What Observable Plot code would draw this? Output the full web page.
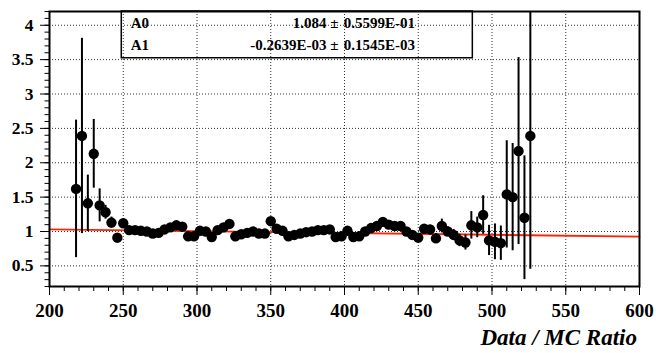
<!DOCTYPE html>
<html><head><meta charset="utf-8">
<script src="https://cdn.jsdelivr.net/npm/d3@7"></script>
<script src="https://cdn.jsdelivr.net/npm/@observablehq/plot@0.6"></script>
<style>
body{margin:0;background:#fff}
#wrap{width:656px}
#title{width:656px;height:31px;box-sizing:border-box;padding-right:19px;text-align:right;font-family:"Liberation Serif",serif;font-weight:bold;font-style:italic;font-size:23px;line-height:31px;color:#000;white-space:nowrap}
</style>
</head><body><div id="wrap"><div id="chart"></div><div id="title"></div></div>
<script>
// ---- data ----
const binCenters = [218,222,226,230,234,238,242,246,250,254,258,262,266,270,274,278,282,286,290,294,298,302,306,310,314,318,322,326,330,334,338,342,346,350,354,358,362,366,370,374,378,382,386,390,394,398,402,406,410,414,418,422,426,430,434,438,442,446,450,454,458,462,466,470,474,478,482,486,490,494,498,502,506,510,514,518,522,526];
const ratio = [1.62,2.39,1.41,2.13,1.38,1.28,1.13,0.91,1.12,1.02,1.02,1.01,1.00,0.97,0.98,1.03,1.06,1.09,1.07,0.93,0.93,1.01,1.00,0.92,1.02,1.06,1.11,0.93,0.96,0.98,1.00,0.97,0.97,1.15,1.04,1.01,0.93,0.95,0.97,0.99,1.00,1.02,1.02,1.03,0.92,0.93,1.01,0.92,0.93,1.00,1.05,1.08,1.14,1.10,1.08,1.08,1.00,0.95,0.91,1.04,1.03,0.90,1.08,1.00,0.95,0.87,0.84,1.09,1.06,1.24,0.87,0.85,0.83,1.54,1.50,2.17,1.20,2.39];
const ratioErr = [1.00,1.42,0.41,0.50,0.24,0.10,0.08,0.06,0.06,0.05,0.05,0.04,0.04,0.04,0.04,0.04,0.04,0.04,0.04,0.04,0.04,0.04,0.04,0.04,0.04,0.04,0.04,0.04,0.04,0.04,0.04,0.04,0.04,0.05,0.04,0.04,0.04,0.04,0.04,0.04,0.04,0.04,0.04,0.04,0.04,0.04,0.04,0.04,0.04,0.04,0.05,0.05,0.05,0.05,0.05,0.05,0.05,0.05,0.06,0.06,0.06,0.07,0.10,0.07,0.08,0.09,0.11,0.20,0.15,0.28,0.22,0.26,0.25,0.78,0.78,1.36,0.90,1.94];
const fitNames = ["A0","A1"];
const fitValues = ["1.084","-0.2639E-03"];
const fitErrors = ["0.5599E-01","0.1545E-03"];
const A0 = 1.084, A1 = -0.2639e-3;
const xMajorTicks = [200,250,300,350,400,450,500,550,600];
const xTickLabels = ["200","250","300","350","400","450","500","550","600"];
const yMajorTicks = [0.5,1,1.5,2,2.5,3,3.5,4];
const yTickLabels = ["0.5","1","1.5","2","2.5","3","3.5","4"];
const xTitle = "Data / MC Ratio";

// ---- build ----
const pts = binCenters.map((x, i) => ({x, y: ratio[i], e: ratioErr[i]}));
const xMinor = d3.range(200, 601, 10);
const yMinor = d3.range(2, 43).map(v => v / 10);
const fitLine = [200, 600].map(x => ({x, y: A0 + A1 * x}));
const rows = fitNames.map((n, i) => ({n, v: fitValues[i] + " \u00b1", err: fitErrors[i], y: [3.955, 3.635][i]}));
const valueWidths = [58, 110];   // text widths in the stats box (style)
const errorWidths = [123, 123];
const serif = "Liberation Serif";

const plot = Plot.plot({
  width: 656, height: 322,
  marginLeft: 49, marginRight: 17, marginTop: 11, marginBottom: 36,
  style: {fontFamily: serif, background: "#fff"},
  x: {domain: [200, 600], axis: null},
  y: {domain: [0.2, 4.2], axis: null},
  marks: [
    Plot.ruleX(xMajorTicks.slice(1, -1), {stroke: "#333", strokeDasharray: "1,2", strokeWidth: 1}),
    Plot.ruleY(yMajorTicks, {stroke: "#333", strokeDasharray: "1,2", strokeWidth: 1}),
    Plot.rect([{x1: 249, x2: 487, y1: 3.52, y2: 4.2}], {x1: "x1", x2: "x2", y1: "y1", y2: "y2", fill: "none", stroke: "#000", strokeWidth: 1.5}),
    Plot.text(rows, {x: 255, y: "y", text: "n", textAnchor: "start", lineAnchor: "bottom", fontSize: 15, fontWeight: "bold", fontFamily: serif, ariaLabel: "stats-name"}),
    Plot.text(rows, {x: 396, y: "y", text: "v", textAnchor: "end", lineAnchor: "bottom", fontSize: 15, fontWeight: "bold", fontFamily: serif, ariaLabel: "stats-val"}),
    Plot.text(rows, {x: 399.5, y: "y", text: "err", textAnchor: "start", lineAnchor: "bottom", fontSize: 15, fontWeight: "bold", fontFamily: serif, ariaLabel: "stats-err"}),
    Plot.line(fitLine, {x: "x", y: "y", stroke: "#ff2200", strokeWidth: 1.8}),
    Plot.ruleX(pts, {x: "x", y1: d => d.y - d.e, y2: d => d.y + d.e, stroke: "#000", strokeWidth: 2, clip: true}),
    Plot.dot(pts, {x: "x", y: "y", r: 5.2, fill: "#000", stroke: "none"}),
    Plot.axisX({ticks: xMinor, tickSize: 5, fill: "none", tickFormat: () => "", label: null}),
    Plot.axisX({ticks: xMajorTicks, tickSize: 9, tickPadding: 8, tickFormat: (d, i) => xTickLabels[i], fontSize: 19, fontWeight: "bold", fontFamily: serif, label: null}),
    Plot.axisY({ticks: yMinor, tickSize: 4.5, fill: "none", tickFormat: () => "", label: null}),
    Plot.axisY({ticks: yMajorTicks, tickSize: 9, tickPadding: 7, tickFormat: (d, i) => yTickLabels[i], fontSize: 17.5, fontWeight: "bold", fontFamily: serif, label: null}),
    Plot.frame({stroke: "#000", strokeWidth: 2})
  ]
});

plot.setAttribute("font-family", serif);
plot.querySelectorAll("text").forEach(el => {
  let node = el, size = null;
  while (node && node !== plot.parentNode) {
    if (size == null && node.getAttribute && node.getAttribute("font-size")) size = node.getAttribute("font-size");
    node = node.parentNode;
  }
  el.setAttribute("font-family", serif);
  el.setAttribute("font-weight", "bold");
  if (size) el.setAttribute("font-size", size);
});
plot.querySelectorAll('g[aria-label="stats-val"] text').forEach((el, i) => {
  el.setAttribute("textLength", valueWidths[i]); el.setAttribute("lengthAdjust", "spacingAndGlyphs");
});
plot.querySelectorAll('g[aria-label="stats-err"] text').forEach((el, i) => {
  el.setAttribute("textLength", errorWidths[i]); el.setAttribute("lengthAdjust", "spacingAndGlyphs");
});
document.getElementById("chart").appendChild(plot);
document.getElementById("title").textContent = xTitle;
</script>
</body></html>
